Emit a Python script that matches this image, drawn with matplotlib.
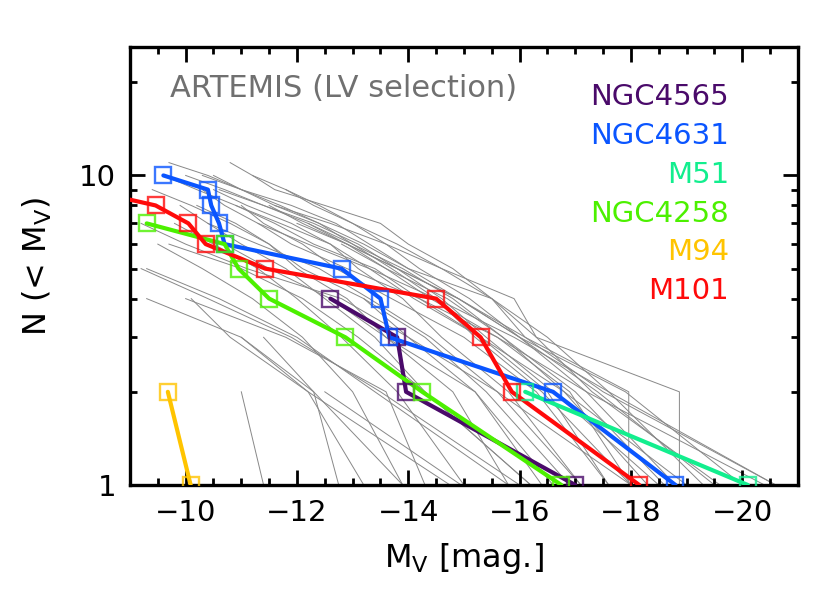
#=======================#
# Libraries importation #
#=======================#

import matplotlib
matplotlib.use("Agg")
import matplotlib.pyplot as plt
from matplotlib.ticker import MultipleLocator, LogLocator, NullFormatter, FixedLocator

#==================#
# Global variables #
#==================#

GREY_COLOR = "#888888"

# Observed satellite luminosity functions, magnitudes from faintest (N = len) to brightest (N = 1)
ngc4565_mags = [-12.6, -13.8, -13.96, -17.0]
ngc4631_mags = [-9.6, -10.4, -10.46, -10.6, -10.7, -12.8, -13.5, -13.66, -16.6, -18.8]
m51_mags = [-16.1, -20.1]
ngc4258_mags = [-9.3, -10.7, -10.95, -11.5, -12.87, -14.25, -16.75]
m94_mags = [-9.68, -10.09]
m101_mags = [-8.2, -9.46, -10.05, -10.36, -11.43, -14.5, -15.3, -15.86, -18.15]

galaxy_names = ["NGC4565", "NGC4631", "M51", "NGC4258", "M94", "M101"]
galaxy_mags = [ngc4565_mags, ngc4631_mags, m51_mags, ngc4258_mags, m94_mags, m101_mags]
galaxy_colors = ["#4a0a6a", "#0a55ff", "#12ee8e", "#4cf000", "#ffc400", "#ff0a0a"]

# ARTEMIS hosts (LV selection)
artemis_mags = [
    [-9.7, -10.4, -11.0, -11.6, -12.4, -13.0, -13.7, -14.5, -15.2, -16.4, -18.0],
    [-10.8, -11.2, -11.6, -12.5, -13.5, -14.0, -14.8, -15.5, -16.3, -17.3, -19.6],
    [-10.0, -10.7, -11.4, -12.2, -12.9, -13.6, -14.4, -15.6, -17.2, -20.4],
    [-10.3, -11.0, -11.9, -12.7, -13.3, -14.0, -15.5, -16.1, -17.96, -17.96],
    [-11.2, -11.8, -12.3, -13.0, -13.8, -14.6, -15.9, -16.3, -18.87, -18.87],
    [-9.4, -10.1, -10.8, -11.5, -12.1, -13.2, -14.0, -15.2, -16.4],
    [-10.5, -11.1, -11.9, -12.6, -13.1, -13.9, -14.6, -15.8, -17.1],
    [-9.9, -10.4, -11.0, -11.8, -12.5, -13.4, -14.3, -16.2],
    [-11.0, -11.4, -12.1, -12.7, -13.7, -15.0, -16.3, -17.6],
    [-10.3, -10.7, -11.3, -12.2, -13.3, -14.5, -15.9, -17.6, -20.6],
    [-9.2, -10.0, -11.1, -12.8, -14.0, -15.6, -18.0],
    [-9.2, -10.4, -11.9, -13.5, -16.0],
    [-9.3, -11.0, -12.3, -13.9],
    [-10.1, -10.8, -12.2, -13.2],
    [-11.0, -12.2, -14.75],
    [-11.4, -12.3, -12.75],
    [-11.0, -11.4],
    [-12.5, -14.95],
    [-10.6, -11.4, -12.3, -13.1, -13.8, -14.6, -15.4, -16.6, -18.5],
    [-11.8, -12.4, -13.0, -13.6, -14.2, -15.1, -16.0, -17.4, -19.5],
    [-9.6, -10.2, -10.9, -11.7, -12.6, -13.3, -14.1, -15.3, -16.5, -17.6],
    [-10.2, -10.9, -11.5, -12.0, -12.9, -13.6, -14.8, -15.8],
    [-12.2, -13.0, -13.9, -14.8, -15.7, -16.8, -19.0],
    [-10.9, -11.6, -12.3, -13.4, -14.2, -15.6, -16.9, -18.0],
    [-9.8, -10.5, -11.3, -12.0, -12.8, -13.8, -15.0],
    [-10.4, -11.3, -12.4, -13.3, -14.4, -15.6, -17.1],
    [-9.5, -10.3, -11.2, -12.1, -13.0, -13.9],
    [-11.5, -12.1, -12.9, -13.8, -14.9, -16.0, -17.9, -20.0],
    [-9.7, -11.0, -12.1, -13.1, -14.3, -16.2],
    [-11.6, -12.6, -13.6, -14.6, -15.5, -16.5, -17.6, -19.3],
    [-10.7, -11.5, -12.6, -13.6, -15.2, -16.6],
    [-12.8, -13.6, -14.7, -15.7, -17.0, -18.6],
    [-9.3, -10.6, -12.0, -13.4, -15.8],
    [-13.2, -14.3, -15.4, -16.9],
    [-10.0, -11.8, -13.6, -14.3],
    [-12.0, -12.9, -13.8, -14.9, -16.1, -17.5, -20.6],
    [-10.5, -11.0, -11.7, -12.4, -13.2, -14.0, -14.9, -16.0, -17.2, -18.8],
    [-11.3, -11.9, -12.9, -14.2, -15.3, -16.8, -18.3],
]

#==========#
# Plotting #
#==========#

plt.rcParams['font.family'] = ['DejaVu Sans']
plt.rcParams['mathtext.fontset'] = 'dejavusans'

fig = plt.figure(figsize=(8.3, 5.94), dpi=100)
ax = fig.add_axes([0.1566, 0.1835, 0.8048, 0.7374])

for mags in artemis_mags:
    counts = list(range(len(mags), 0, -1))
    ax.plot(mags, counts, color=GREY_COLOR, linewidth=0.7, zorder=1)

for name, mags, color in zip(galaxy_names, galaxy_mags, galaxy_colors):
    counts = list(range(len(mags), 0, -1))
    ax.plot(mags, counts, color=color, linewidth=3, solid_joinstyle='round',
            solid_capstyle='round', zorder=3)
    ax.plot(mags, counts, linestyle='none', marker='s', markersize=12,
            markerfacecolor='none', markeredgecolor=color, markeredgewidth=1.7,
            alpha=0.8, zorder=4)

ax.set_xlim(-9, -21)
ax.set_yscale('log')
ax.set_ylim(1, 26)

ax.xaxis.set_major_locator(MultipleLocator(2))
ax.xaxis.set_minor_locator(MultipleLocator(0.5))
ax.yaxis.set_major_locator(FixedLocator([1, 10]))
ax.yaxis.set_minor_locator(LogLocator(base=10, subs=range(2, 10)))
ax.yaxis.set_major_formatter(plt.FuncFormatter(lambda v, p: "%d" % v))
ax.yaxis.set_minor_formatter(NullFormatter())
ax.xaxis.set_major_formatter(plt.FuncFormatter(lambda v, p: "\u2212%d" % abs(v)))

ax.tick_params(which='both', direction='in', top=True, right=True, labelsize=21,
               width=2)
ax.tick_params(which='major', length=11, pad=10)
ax.tick_params(which='minor', length=5)
for spine in ax.spines.values():
    spine.set_linewidth(2.4)

ax.set_xlabel(r"M$_\mathrm{V}$ [mag.]", fontsize=23, labelpad=10)
ax.set_ylabel(r"N (< M$_\mathrm{V}$)", fontsize=23, labelpad=18)

ax.text(0.06, 0.905, "ARTEMIS (LV selection)", transform=ax.transAxes,
        color="#707070", fontsize=22, ha='left', va='center')

for i, (name, color) in enumerate(zip(galaxy_names, galaxy_colors)):
    ax.text(0.897, 0.885 - i * 0.0885, name, transform=ax.transAxes, color=color,
            fontsize=21, ha='right', va='center')

fig.savefig("out.png", dpi=100)
